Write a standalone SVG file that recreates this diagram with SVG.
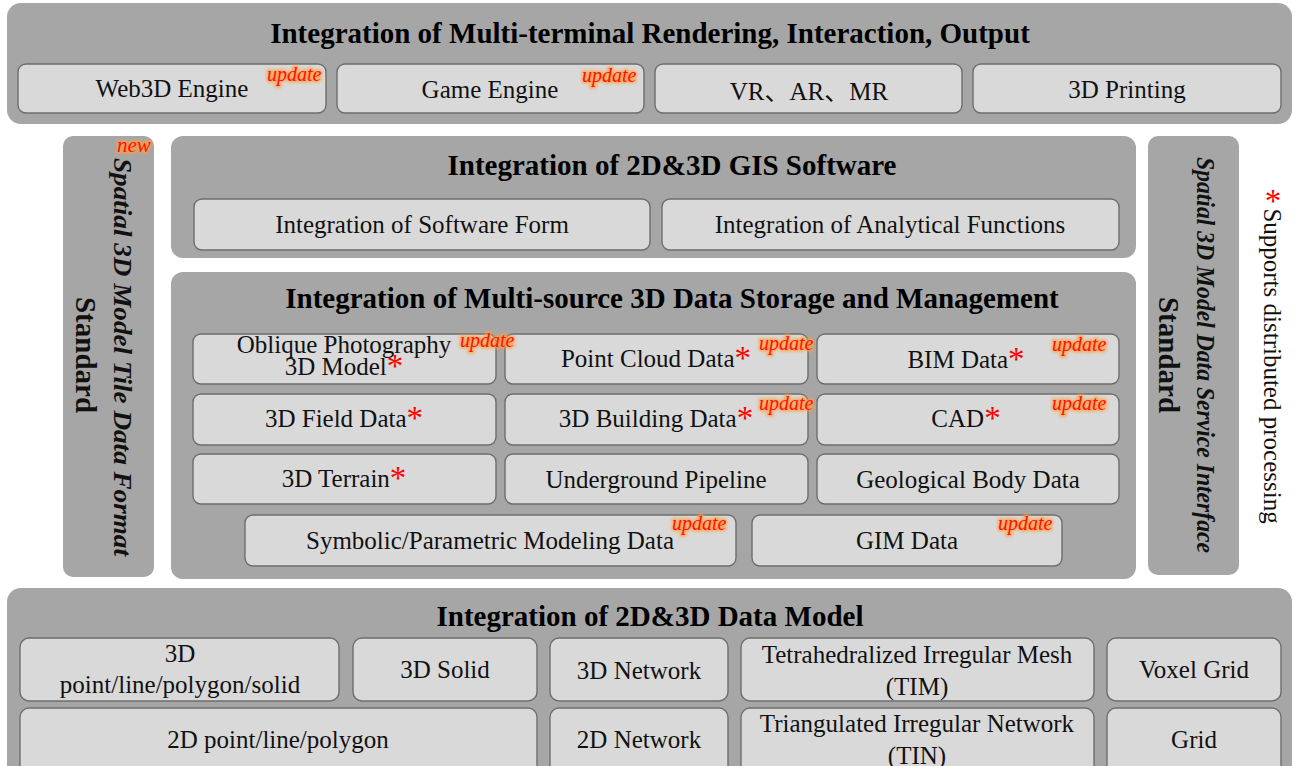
<svg xmlns="http://www.w3.org/2000/svg" width="1296" height="766" viewBox="0 0 1296 766">
  <defs>
    <filter id="glow" x="-20%" y="-40%" width="140%" height="180%">
      <feGaussianBlur stdDeviation="1.7"/>
    </filter>
    <style>
      .panel { fill: #a6a6a6; }
      .box { fill: #d9d9d9; stroke: #6e6e6e; stroke-width: 1.4; }
      .t { font-family: "Liberation Serif", "Noto Sans CJK SC", serif; font-size: 25px; fill: #111; text-anchor: middle; }
      .h { font-family: "Liberation Serif", serif; font-size: 29px; font-weight: bold; fill: #000; text-anchor: middle; }
      .vi { font-family: "Liberation Serif", serif; font-size: 25px; font-weight: bold; font-style: italic; fill: #111; text-anchor: middle; }
      .vb { font-family: "Liberation Serif", serif; font-size: 29px; font-weight: bold; fill: #111; text-anchor: middle; }
      .star { fill: #ff0000; font-size: 33px; }
      .tag { font-family: "Liberation Serif", serif; font-size: 20px; font-style: italic; fill: #ff1010; }
      .tagglow { font-family: "Liberation Serif", serif; font-size: 20px; font-style: italic; fill: #ffa040; stroke: #ffa040; stroke-width: 3; opacity: 0.85; filter: url(#glow); }
    </style>
  </defs>

  <rect width="1296" height="766" fill="#ffffff"/>

  <!-- Output layer -->
  <g id="output-layer">
    <rect class="panel" x="7" y="3" width="1285" height="121" rx="14"/>
    <text class="h" x="650" y="43">Integration of Multi-terminal Rendering, Interaction, Output</text>
  </g>
  <g id="web3d-engine">
    <rect class="box" x="18" y="64" width="308" height="49" rx="8"/>
    <text class="t" x="172" y="97">Web3D Engine</text>
    <text class="tagglow" x="267" y="81">update</text>
    <text class="tag" x="267" y="81">update</text>
  </g>
  <g id="game-engine">
    <rect class="box" x="337" y="64" width="307" height="49" rx="8"/>
    <text class="t" x="490" y="98">Game Engine</text>
    <text class="tagglow" x="582" y="82">update</text>
    <text class="tag" x="582" y="82">update</text>
  </g>
  <g id="vr-ar-mr">
    <rect class="box" x="655" y="64" width="307" height="49" rx="8"/>
    <text class="t" x="809" y="100">VR、AR、MR</text>
  </g>
  <g id="printing">
    <rect class="box" x="973" y="64" width="308" height="49" rx="8"/>
    <text class="t" x="1127" y="98">3D Printing</text>
  </g>

  <!-- Left standard column -->
  <g id="tile-format-standard">
    <rect class="panel" x="63" y="136" width="91" height="441" rx="10"/>
    <text class="vi" transform="translate(114,357) rotate(90)" textLength="398" lengthAdjust="spacingAndGlyphs">Spatial 3D Model Tile Data Format</text>
    <text class="vb" transform="translate(76,355) rotate(90)">Standard</text>
    <text class="tagglow" x="117" y="152" style="font-size:21px">new</text>
    <text class="tag" x="117" y="152" style="font-size:21px">new</text>
  </g>

  <!-- Right standard column -->
  <g id="service-interface-standard">
    <rect class="panel" x="1148" y="136" width="91" height="439" rx="10"/>
    <text class="vi" transform="translate(1197,355) rotate(90)" textLength="396" lengthAdjust="spacingAndGlyphs">Spatial 3D Model Data Service Interface</text>
    <text class="vb" transform="translate(1159,355) rotate(90)">Standard</text>
  </g>

  <!-- Legend -->
  <g id="legend">
    <text class="t star" x="1273" y="212" text-anchor="middle" style="font-size:33px">*</text>
    <text class="t" transform="translate(1264,366) rotate(90)">Supports distributed processing</text>
  </g>

  <!-- GIS software layer -->
  <g id="gis-software">
    <rect class="panel" x="171" y="136" width="965" height="122" rx="12"/>
    <text class="h" x="672" y="175">Integration of 2D&amp;3D GIS Software</text>
  </g>
  <g id="software-form">
    <rect class="box" x="194" y="199" width="456" height="51" rx="8"/>
    <text class="t" x="422" y="233">Integration of Software Form</text>
  </g>
  <g id="analytical-functions">
    <rect class="box" x="662" y="199" width="457" height="51" rx="8"/>
    <text class="t" x="890" y="233">Integration of Analytical Functions</text>
  </g>

  <!-- Storage and management layer -->
  <g id="data-storage">
    <rect class="panel" x="171" y="272" width="965" height="307" rx="12"/>
    <text class="h" x="672" y="308">Integration of Multi-source 3D Data Storage and Management</text>
  </g>
  <g id="point-cloud">
    <rect class="box" x="505" y="334" width="303" height="50" rx="8"/>
    <text class="t" x="656" y="367">Point Cloud Data<tspan class="star" dy="2">*</tspan></text>
    <text class="tagglow" x="759" y="350">update</text>
    <text class="tag" x="759" y="350">update</text>
  </g>
  <!-- drawn after its neighbour so the tag sits on top of the gap -->
  <g id="oblique">
    <rect class="box" x="193" y="334" width="303" height="50" rx="8"/>
    <text class="t" x="344" y="353">Oblique Photography</text>
    <text class="t" x="344" y="375">3D Model<tspan class="star" dy="2">*</tspan></text>
    <text class="tagglow" x="460" y="347">update</text>
    <text class="tag" x="460" y="347">update</text>
  </g>
  <g id="bim">
    <rect class="box" x="817" y="334" width="302" height="50" rx="8"/>
    <text class="t" x="966" y="368">BIM Data<tspan class="star" dy="2">*</tspan></text>
    <text class="tagglow" x="1052" y="351">update</text>
    <text class="tag" x="1052" y="351">update</text>
  </g>
  <g id="field-data">
    <rect class="box" x="193" y="394" width="303" height="51" rx="8"/>
    <text class="t" x="344" y="427">3D Field Data<tspan class="star" dy="2">*</tspan></text>
  </g>
  <g id="building-data">
    <rect class="box" x="505" y="394" width="303" height="51" rx="8"/>
    <text class="t" x="656" y="427">3D Building Data<tspan class="star" dy="2">*</tspan></text>
    <text class="tagglow" x="759" y="410">update</text>
    <text class="tag" x="759" y="410">update</text>
  </g>
  <g id="cad">
    <rect class="box" x="817" y="394" width="302" height="51" rx="8"/>
    <text class="t" x="966" y="427">CAD<tspan class="star" dy="2">*</tspan></text>
    <text class="tagglow" x="1052" y="410">update</text>
    <text class="tag" x="1052" y="410">update</text>
  </g>
  <g id="terrain">
    <rect class="box" x="193" y="454" width="303" height="50" rx="8"/>
    <text class="t" x="344" y="487">3D Terrain<tspan class="star" dy="2">*</tspan></text>
  </g>
  <g id="pipeline">
    <rect class="box" x="505" y="454" width="303" height="50" rx="8"/>
    <text class="t" x="656" y="488">Underground Pipeline</text>
  </g>
  <g id="geological">
    <rect class="box" x="817" y="454" width="302" height="50" rx="8"/>
    <text class="t" x="968" y="488">Geological Body Data</text>
  </g>
  <g id="symbolic">
    <rect class="box" x="245" y="515" width="491" height="51" rx="8"/>
    <text class="t" x="490" y="549">Symbolic/Parametric Modeling Data</text>
    <text class="tagglow" x="672" y="530">update</text>
    <text class="tag" x="672" y="530">update</text>
  </g>
  <g id="gim">
    <rect class="box" x="752" y="515" width="310" height="51" rx="8"/>
    <text class="t" x="907" y="549">GIM Data</text>
    <text class="tagglow" x="998" y="530">update</text>
    <text class="tag" x="998" y="530">update</text>
  </g>

  <!-- Data model layer -->
  <g id="data-model">
    <rect class="panel" x="7" y="588" width="1285" height="200" rx="14"/>
    <text class="h" x="650" y="626">Integration of 2D&amp;3D Data Model</text>
  </g>
  <g id="point-line-polygon-solid">
    <rect class="box" x="20" y="638" width="319" height="63" rx="9"/>
    <text class="t" x="180" y="662">3D</text>
    <text class="t" x="180" y="693">point/line/polygon/solid</text>
  </g>
  <g id="solid">
    <rect class="box" x="353" y="638" width="184" height="63" rx="9"/>
    <text class="t" x="445" y="678">3D Solid</text>
  </g>
  <g id="network-3d">
    <rect class="box" x="550" y="638" width="178" height="63" rx="9"/>
    <text class="t" x="639" y="679">3D Network</text>
  </g>
  <g id="tim">
    <rect class="box" x="741" y="638" width="353" height="63" rx="9"/>
    <text class="t" x="917" y="663">Tetrahedralized Irregular Mesh</text>
    <text class="t" x="917" y="695">(TIM)</text>
  </g>
  <g id="voxel-grid">
    <rect class="box" x="1107" y="638" width="174" height="63" rx="9"/>
    <text class="t" x="1194" y="678">Voxel Grid</text>
  </g>
  <g id="point-line-polygon">
    <rect class="box" x="20" y="708" width="517" height="70" rx="9"/>
    <text class="t" x="278" y="748">2D point/line/polygon</text>
  </g>
  <g id="network-2d">
    <rect class="box" x="550" y="708" width="178" height="70" rx="9"/>
    <text class="t" x="639" y="748">2D Network</text>
  </g>
  <g id="tin">
    <rect class="box" x="741" y="708" width="353" height="70" rx="9"/>
    <text class="t" x="917" y="732">Triangulated Irregular Network</text>
    <text class="t" x="917" y="764">(TIN)</text>
  </g>
  <g id="grid">
    <rect class="box" x="1107" y="708" width="174" height="70" rx="9"/>
    <text class="t" x="1194" y="748">Grid</text>
  </g>

  <!-- No connectors in this layered diagram -->
  <g id="connectors"/>
</svg>
